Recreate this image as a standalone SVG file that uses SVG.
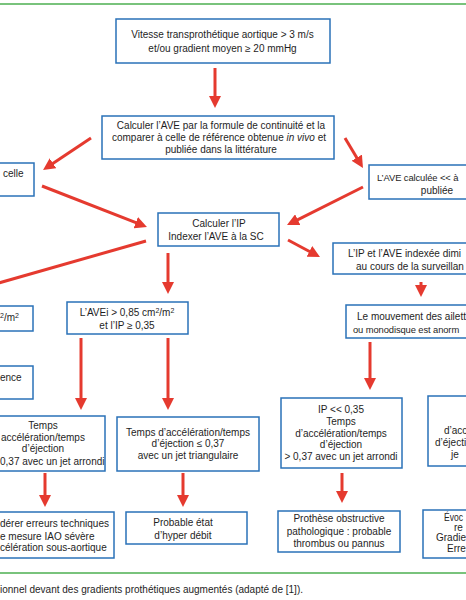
<svg xmlns="http://www.w3.org/2000/svg" width="466" height="600" viewBox="0 0 466 600">
<defs>
<style>
.box{fill:#fff;stroke:#2a72b8;stroke-width:1.5}
.t{font-family:"Liberation Sans",Arial,sans-serif;font-size:10px;fill:#1e1e1e}
.c{text-anchor:middle}
.tight{font-size:9.4px;letter-spacing:-0.1px}
.arr{stroke:#e53a2f;stroke-width:3;fill:none;marker-end:url(#ah)}
.ln{stroke:#e53a2f;stroke-width:3;fill:none}
.green{stroke:#4caf50;stroke-width:1.5}
</style>
<marker id="ah" markerUnits="userSpaceOnUse" viewBox="0 0 12 12" markerWidth="12" markerHeight="12" refX="7" refY="6" orient="auto">
<path d="M0,0 L12,6 L0,12 z" fill="#e53a2f"/>
</marker>
</defs>
<rect width="466" height="600" fill="#fff"/>
<line class="green" x1="0" y1="4" x2="466" y2="4"/>
<line class="green" x1="0" y1="573" x2="466" y2="573"/>

<g id="n1">
<rect class="box" x="116" y="19" width="214" height="44"/>
<text class="t c" x="222.5" y="37.5">Vitesse transprothétique aortique &gt;  3 m/s</text>
<text class="t c" x="222.5" y="51.5">et/ou gradient moyen ≥  20 mmHg</text>
</g>

<g id="n2">
<rect class="box" x="102" y="116" width="232" height="43"/>
<text class="t c" x="221" y="128.5">Calculer l’AVE par la formule de continuité et la</text>
<text class="t c" x="219" y="141">comparer à celle de référence obtenue <tspan font-style="italic">in vivo</tspan> et</text>
<text class="t c" x="221" y="153">publiée dans la littérature</text>
</g>

<g id="n3">
<rect class="box" x="-5" y="163" width="39" height="33"/>
<text class="t" x="3" y="177">celle</text>
</g>

<g id="n4">
<rect class="box" x="369" y="165" width="102" height="34"/>
<text class="t tight" x="377" y="181">L’AVE calculée &lt;&lt; à</text>
<text class="t c" x="437" y="194">publiée</text>
</g>

<g id="n5">
<rect class="box" x="158" y="213" width="121" height="33"/>
<text class="t c" x="219" y="227">Calculer l’IP</text>
<text class="t c" x="216" y="239.5">Indexer l’AVE à la SC</text>
</g>

<g id="n6">
<rect class="box" x="333" y="243" width="138" height="31"/>
<text class="t" x="348" y="256.5">L’IP et l’AVE  indexée dimi</text>
<text class="t" x="356" y="269.5" font-size="9.5">au cours de la surveillan</text>
</g>

<g id="n7">
<rect class="box" x="346" y="305" width="125" height="33"/>
<text class="t" x="357" y="319.5" font-size="9.5">Le mouvement des ailett</text>
<text class="t tight" x="353" y="332.5">ou monodisque est anorm</text>
</g>

<g id="n8">
<rect class="box" x="-5" y="306" width="38" height="25"/>
<text class="t" x="0" y="321"><tspan baseline-shift="super" font-size="7">2</tspan>/m<tspan baseline-shift="super" font-size="7">2</tspan></text>
</g>

<g id="n9">
<rect class="box" x="67" y="302" width="121" height="32"/>
<text class="t c" x="127" y="316">L’AVEi &gt; 0,85 cm<tspan baseline-shift="super" font-size="7">2</tspan>/m<tspan baseline-shift="super" font-size="7">2</tspan></text>
<text class="t c" x="127" y="329">et l’IP ≥ 0,35</text>
</g>

<g id="n10">
<rect class="box" x="-5" y="366" width="38" height="33"/>
<text class="t" x="0" y="381">ence</text>
</g>

<g id="n11">
<rect class="box" x="-5" y="416" width="110" height="55"/>
<text class="t c" x="43" y="428.5">Temps</text>
<text class="t" x="1" y="440.5">accélération/temps</text>
<text class="t c" x="43" y="452">d’éjection</text>
<text class="t" x="0" y="464.5">0,37 avec un jet arrondi</text>
</g>

<g id="n12">
<rect class="box" x="117" y="417" width="142" height="54"/>
<text class="t c" x="188" y="435.5">Temps d’accélération/temps</text>
<text class="t c" x="188" y="447">d’éjection ≤ 0,37</text>
<text class="t c" x="188" y="458.5">avec un  jet triangulaire</text>
</g>

<g id="n13">
<rect class="box" x="281" y="398" width="121" height="70"/>
<text class="t c" x="341" y="412.5">IP &lt;&lt; 0,35</text>
<text class="t c" x="341" y="424.5">Temps</text>
<text class="t c" x="341" y="436.5">d’accélération/temps</text>
<text class="t c" x="341" y="447.5">d’éjection</text>
<text class="t c" x="341" y="459.5">&gt; 0,37 avec un jet arrondi</text>
</g>

<g id="n14">
<rect class="box" x="428" y="396" width="45" height="70"/>
<text class="t" x="444" y="433.5">d’acc</text>
<text class="t" x="435" y="445.5">d’éjecti</text>
<text class="t" x="451" y="457.5">je</text>
</g>

<g id="n15">
<rect class="box" x="-5" y="512" width="119" height="46"/>
<text class="t" x="0" y="526.5">dérer erreurs  techniques</text>
<text class="t" x="0" y="539.5">e mesure IAO sévère</text>
<text class="t" x="0" y="551">célération sous-aortique</text>
</g>

<g id="n16">
<rect class="box" x="126" y="512" width="121" height="32"/>
<text class="t c" x="183" y="525.5">Probable état</text>
<text class="t c" x="183" y="538.5">d’hyper débit</text>
</g>

<g id="n17">
<rect class="box" x="278" y="511" width="122" height="41"/>
<text class="t c" x="339" y="521.5">Prothèse obstructive</text>
<text class="t c" x="339" y="534.5">pathologique : probable</text>
<text class="t c" x="339" y="546.5">thrombus ou pannus</text>
</g>

<g id="n18">
<rect class="box" x="423" y="510" width="50" height="48"/>
<text class="t" x="444" y="520.5" textLength="19" lengthAdjust="spacingAndGlyphs">Évoc</text>
<text class="t" x="454" y="530.5">re</text>
<text class="t" x="436" y="540.5">Gradie</text>
<text class="t" x="447" y="551.5">Erre</text>
</g>

<g id="connectors">
<line class="arr" x1="215" y1="68" x2="215" y2="103"/>
<line class="arr" x1="91" y1="138" x2="47.2" y2="167.2"/>
<line class="arr" x1="42" y1="186" x2="142.3" y2="225.2"/>
<line class="arr" x1="345" y1="138" x2="360.4" y2="163.7"/>
<line class="arr" x1="363" y1="187" x2="291.5" y2="222.8"/>
<line class="ln" x1="146" y1="241" x2="-5" y2="284"/>
<line class="arr" x1="168" y1="253" x2="168" y2="289"/>
<line class="arr" x1="288" y1="240" x2="315.6" y2="254.7"/>
<line class="arr" x1="421" y1="282" x2="421" y2="292"/>
<line class="arr" x1="370" y1="342" x2="370" y2="385"/>
<line class="arr" x1="81" y1="338" x2="81" y2="405"/>
<line class="arr" x1="168" y1="338" x2="168" y2="405"/>
<line class="arr" x1="45" y1="473" x2="45" y2="502"/>
<line class="arr" x1="183" y1="473" x2="183" y2="502"/>
<line class="arr" x1="342" y1="473" x2="342" y2="498"/>
</g>

<text class="t" x="0" y="593" font-size="8">ionnel devant des gradients prothétiques augmentés (adapté de [1]).</text>
</svg>
